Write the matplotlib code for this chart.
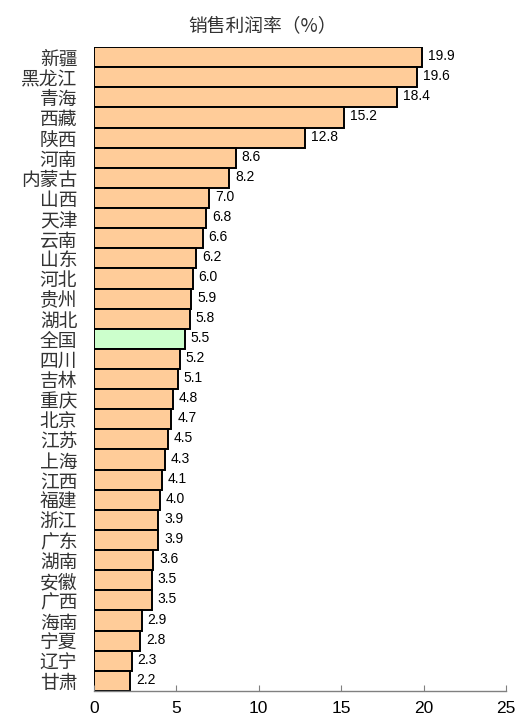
# 各地区销售利润率 横向条形图
import matplotlib.pyplot as plt

plt.rcParams['font.family'] = ['Noto Sans CJK SC', 'DejaVu Sans']

regions = ['新疆', '黑龙江', '青海', '西藏', '陕西', '河南', '内蒙古', '山西', '天津', '云南',
           '山东', '河北', '贵州', '湖北', '全国', '四川', '吉林', '重庆', '北京', '江苏',
           '上海', '江西', '福建', '浙江', '广东', '湖南', '安徽', '广西', '海南', '宁夏',
           '辽宁', '甘肃']
rates = [19.9, 19.6, 18.4, 15.2, 12.8, 8.6, 8.2, 7.0, 6.8, 6.6,
         6.2, 6.0, 5.9, 5.8, 5.5, 5.2, 5.1, 4.8, 4.7, 4.5,
         4.3, 4.1, 4.0, 3.9, 3.9, 3.6, 3.5, 3.5, 2.9, 2.8,
         2.3, 2.2]
xticks = [0, 5, 10, 15, 20, 25]

colors = ['#CCFFCC' if r == '全国' else '#FFCC99' for r in regions]

fig = plt.figure(figsize=(5.15, 7.2), dpi=100)
ax = fig.add_axes([0.1825, 0.0403, 0.8, 0.8944])

pos = list(range(len(regions)))
ax.barh(pos, rates, height=1.0, color=colors, edgecolor='black', linewidth=1.4)

for p, v in zip(pos, rates):
    ax.text(v + 0.35, p - 0.05, f'{v:.1f}', va='center', ha='left',
            fontsize=10, family='Liberation Sans', color='black')

ax.set_xlim(0, 25)
ax.set_ylim(len(regions) - 0.5, -0.5)
ax.set_xticks(xticks)
ax.set_yticks(pos)
ax.set_yticklabels(regions, fontsize=13.5, color='#333333')
ax.tick_params(axis='y', length=0, pad=12)
ax.tick_params(axis='x', direction='in', length=4, color='#808080', pad=7,
               labelsize=12.5)
for lab in ax.get_xticklabels():
    lab.set_family('Liberation Sans')

for s in ['top', 'right', 'left']:
    ax.spines[s].set_visible(False)
ax.spines['bottom'].set_color('#808080')
ax.spines['bottom'].set_linewidth(1.0)

fig.text(0.51, 0.964, '销售利润率（%）', ha='center', va='center',
         fontsize=13.5, color='#333333')

fig.savefig('out.png', dpi=100)
